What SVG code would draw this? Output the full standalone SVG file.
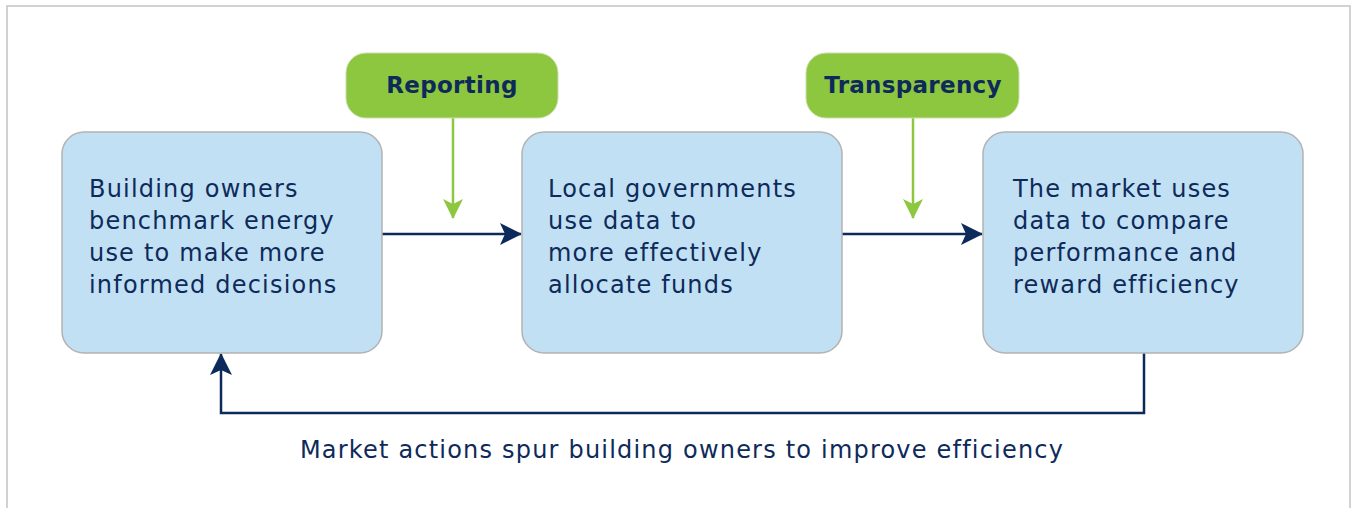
<svg xmlns="http://www.w3.org/2000/svg" width="1352" height="508" viewBox="0 0 1352 508">
  <style>
    .frame { fill: #ffffff; stroke: #c4c4c4; stroke-width: 1.5; }
    .box { fill: #c1e0f3; stroke: #b3b3b3; stroke-width: 1.5; }
    .pill { fill: #8dc63f; stroke: #c9dfae; stroke-width: 1; }
    .txt { font-family: "DejaVu Sans", "Liberation Sans", sans-serif; font-size: 24px; fill: #0e2a5a; letter-spacing: 1.2px; }
    .lbl { font-family: "DejaVu Sans", "Liberation Sans", sans-serif; font-size: 23px; font-weight: bold; fill: #0e2a5a; text-anchor: middle; letter-spacing: 0.3px; }
    .navy { fill: none; stroke: #0c2a5b; stroke-width: 2.5; }
    .green { fill: none; stroke: #8dc63f; stroke-width: 2.5; }
  </style>
  <defs>
    <marker id="greenHead" markerWidth="20" markerHeight="20" viewBox="0 0 20 20" refX="19" refY="10" orient="auto" markerUnits="userSpaceOnUse">
      <path d="M0,0 L20,10 L0,20 L5,10 Z" fill="#8dc63f"/>
    </marker>
    <marker id="navyHead" markerWidth="22" markerHeight="22" viewBox="0 0 22 22" refX="21" refY="11" orient="auto" markerUnits="userSpaceOnUse">
      <path d="M0,0 L22,11 L0,22 L5,11 Z" fill="#0c2a5b"/>
    </marker>
  </defs>

  <rect class="frame" x="7" y="6" width="1343" height="520"/>

  <g id="connectors">
    <path class="green" d="M453,118 V218" marker-end="url(#greenHead)"/>
    <path class="green" d="M913,118 V218" marker-end="url(#greenHead)"/>
    <path class="navy" d="M382,234 H521" marker-end="url(#navyHead)"/>
    <path class="navy" d="M842,234 H982" marker-end="url(#navyHead)"/>
    <path class="navy" d="M1144,353 V413 H221 V354" marker-end="url(#navyHead)"/>
  </g>

  <g id="reporting">
    <rect class="pill" x="346" y="53" width="212" height="65" rx="20"/>
    <text class="lbl" x="452" y="93">Reporting</text>
  </g>
  <g id="transparency">
    <rect class="pill" x="806" y="53" width="213" height="65" rx="20"/>
    <text class="lbl" x="913" y="93">Transparency</text>
  </g>

  <g id="owners">
    <rect class="box" x="62" y="132" width="320" height="221" rx="22"/>
    <text class="txt" x="89" y="197">Building owners</text>
    <text class="txt" x="89" y="229">benchmark energy</text>
    <text class="txt" x="89" y="261">use to make more</text>
    <text class="txt" x="89" y="293">informed decisions</text>
  </g>
  <g id="governments">
    <rect class="box" x="522" y="132" width="320" height="221" rx="22"/>
    <text class="txt" x="548" y="197">Local governments</text>
    <text class="txt" x="548" y="229">use data to</text>
    <text class="txt" x="548" y="261">more effectively</text>
    <text class="txt" x="548" y="293">allocate funds</text>
  </g>
  <g id="market">
    <rect class="box" x="983" y="132" width="320" height="221" rx="22"/>
    <text class="txt" x="1013" y="197">The market uses</text>
    <text class="txt" x="1013" y="229">data to compare</text>
    <text class="txt" x="1013" y="261">performance and</text>
    <text class="txt" x="1013" y="293">reward efficiency</text>
  </g>

  <text class="txt" x="682" y="458" text-anchor="middle">Market actions spur building owners to improve efficiency</text>
</svg>
